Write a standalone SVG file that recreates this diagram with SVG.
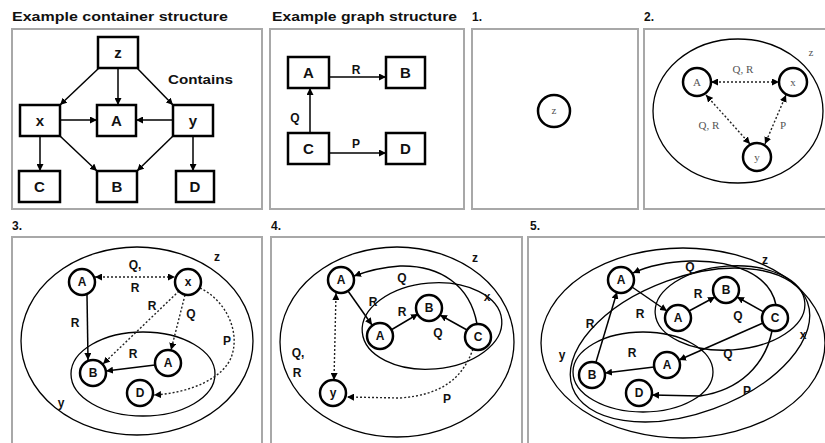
<svg xmlns="http://www.w3.org/2000/svg" width="825" height="443" viewBox="0 0 825 443">
<defs>
<marker id="ah" viewBox="0 0 8 8" refX="8" refY="4" markerWidth="7" markerHeight="7" markerUnits="userSpaceOnUse" orient="auto-start-reverse"><path d="M0,0 L8,4 L0,8 z" fill="#000"/></marker>
<style>
.frame{fill:#fff;stroke:#a8a8a8;stroke-width:2}
.box{fill:#fff;stroke:#000;stroke-width:2.5}
.circ{fill:#fff;stroke:#000;stroke-width:2.5}
.ell{fill:none;stroke:#000;stroke-width:1.3}
.c{fill:none;stroke:#000;stroke-width:1.5;marker-end:url(#ah)}
.d{fill:none;stroke:#222;stroke-width:1.4;stroke-dasharray:2 2;marker-end:url(#ah)}
.bi{marker-start:url(#ah)}
text{font-family:"Liberation Sans",Arial,sans-serif;font-weight:bold;fill:#111}
.title{font-size:12px}
.lbl{font-size:12px;text-anchor:middle}
.bx{font-size:15px;text-anchor:middle}
.cl{font-size:12px;text-anchor:middle}
.sf{font-family:"Liberation Serif","Times New Roman",serif;font-weight:normal;fill:#555;font-size:11px;text-anchor:middle}
</style>
</defs>
<rect width="825" height="443" fill="#fff"/>

<!-- frames -->
<g id="frames">
<rect class="frame" x="12" y="29" width="250" height="180"/>
<rect class="frame" x="270" y="29" width="194" height="180"/>
<rect class="frame" x="472" y="29" width="166" height="180"/>
<rect class="frame" x="644" y="29" width="190" height="180"/>
<rect class="frame" x="12" y="237" width="250" height="220"/>
<rect class="frame" x="271" y="237" width="251" height="220"/>
<rect class="frame" x="528" y="237" width="310" height="220"/>
</g>

<g id="titles">
<text class="title" x="12" y="21" textLength="216" lengthAdjust="spacingAndGlyphs">Example container structure</text>
<text class="title" x="272" y="21" textLength="185" lengthAdjust="spacingAndGlyphs">Example graph structure</text>
<text class="title" x="472" y="21">1.</text>
<text class="title" x="644" y="21">2.</text>
<text class="title" x="12" y="230">3.</text>
<text class="title" x="271" y="230">4.</text>
<text class="title" x="530" y="230">5.</text>
</g>

<!-- containers (ellipses) -->
<g id="p2-z"><ellipse class="ell" cx="738" cy="111" rx="85" ry="72"/><text class="sf" x="811" y="56" font-size="9">z</text></g>
<g id="p3-z"><ellipse class="ell" cx="137" cy="341" rx="116" ry="94"/><text class="cl" x="217" y="261">z</text></g>
<g id="p3-y"><ellipse class="ell" cx="143" cy="374" rx="72" ry="42"/><text class="cl" x="61" y="407">y</text></g>
<g id="p4-z"><ellipse class="ell" cx="397" cy="342" rx="117" ry="95"/><text class="cl" x="475" y="262">z</text></g>
<g id="p4-x"><ellipse class="ell" cx="432" cy="326" rx="70" ry="43" transform="rotate(-5 432 326)"/><text class="cl" x="487" y="301">x</text></g>
<g id="p5-z"><ellipse class="ell" cx="683" cy="343" rx="142" ry="95"/><text class="cl" x="765" y="264">z</text></g>
<g id="p5-x"><ellipse class="ell" cx="730" cy="308" rx="75" ry="42" transform="rotate(-4 730 308)"/><ellipse class="ell" cx="690" cy="345" rx="125" ry="68" transform="rotate(-20 690 345)"/><text class="cl" x="803" y="339">x</text></g>
<g id="p5-y"><ellipse class="ell" cx="643" cy="372" rx="70" ry="40"/><text class="cl" x="562" y="359">y</text></g>

<!-- connectors -->
<g id="connectors">
<!-- container structure -->
<line class="c" x1="99" y1="68" x2="60" y2="105"/>
<line class="c" x1="118" y1="68" x2="118" y2="105"/>
<line class="c" x1="137" y1="68" x2="173" y2="105"/>
<line class="c" x1="60" y1="120" x2="97" y2="120"/>
<line class="c" x1="173" y1="120" x2="136" y2="120"/>
<line class="c" x1="40" y1="136" x2="40" y2="171"/>
<line class="c" x1="60" y1="136" x2="97" y2="171"/>
<line class="c" x1="173" y1="136" x2="137" y2="171"/>
<line class="c" x1="193" y1="136" x2="193" y2="171"/>
<text class="title" x="168" y="84" textLength="65" lengthAdjust="spacingAndGlyphs">Contains</text>
<!-- graph structure -->
<line class="c" x1="329" y1="77" x2="386" y2="77"/>
<text class="lbl" x="356" y="74">R</text>
<line class="c" x1="310" y1="133" x2="310" y2="88"/>
<text class="lbl" x="295" y="122">Q</text>
<line class="c" x1="329" y1="153" x2="386" y2="153"/>
<text class="lbl" x="356" y="148">P</text>
<!-- panel 2 -->
<line class="d bi" x1="711" y1="82" x2="779" y2="82"/>
<text class="sf" x="743" y="73">Q, R</text>
<line class="d bi" x1="706" y1="95" x2="750" y2="144"/>
<text class="sf" x="709" y="129">Q, R</text>
<line class="d bi" x1="786" y1="95" x2="765" y2="144"/>
<text class="sf" x="783" y="129">P</text>
<!-- panel 3 -->
<line class="d bi" x1="95" y1="277" x2="175" y2="277"/>
<text class="cl" x="135" y="269">Q,</text>
<text class="cl" x="135" y="292">R</text>
<line class="c" x1="87" y1="295" x2="88" y2="360"/>
<text class="cl" x="75" y="327">R</text>
<line class="d" x1="179" y1="291" x2="103" y2="364"/>
<text class="cl" x="152" y="310">R</text>
<line class="d" x1="185" y1="295" x2="171" y2="350"/>
<text class="cl" x="191" y="318">Q</text>
<line class="c" x1="155" y1="365" x2="106" y2="371"/>
<text class="cl" x="133" y="358">R</text>
<path class="d" d="M200,288 C225,300 240,330 232,355 C225,378 190,393 154,395"/>
<text class="cl" x="227" y="345">P</text>
<!-- panel 4 -->
<path class="c" d="M477,324 C470,285 440,265 400,266 C385,267 370,270 354,276"/>
<text class="cl" x="402" y="282">Q</text>
<line class="c" x1="348" y1="291" x2="372" y2="325"/>
<text class="cl" x="373" y="306">R</text>
<line class="c" x1="391" y1="330" x2="418" y2="314"/>
<text class="cl" x="402" y="316">R</text>
<line class="c" x1="467" y1="330" x2="440" y2="315"/>
<text class="cl" x="438" y="337">Q</text>
<line class="d bi" x1="336" y1="293" x2="334" y2="380"/>
<text class="cl" x="298" y="357">Q,</text>
<text class="cl" x="297" y="377">R</text>
<path class="d" d="M473,349 C462,380 440,395 400,398 L347,397"/>
<text class="cl" x="447" y="403">P</text>
<!-- panel 5 -->
<path class="c" d="M776,305 C770,275 735,260 690,261 C665,262 648,266 633,273"/>
<text class="cl" x="690" y="271">Q</text>
<line class="c" x1="632" y1="287" x2="667" y2="311"/>
<text class="cl" x="640" y="318">R</text>
<line class="c" x1="689" y1="311" x2="715" y2="297"/>
<text class="cl" x="698" y="298">R</text>
<line class="c" x1="764" y1="312" x2="737" y2="297"/>
<text class="cl" x="738" y="320">Q</text>
<line class="c" x1="763" y1="323" x2="679" y2="360"/>
<text class="cl" x="728" y="358">Q</text>
<line class="c" x1="654" y1="367" x2="605" y2="373"/>
<text class="cl" x="632" y="357">R</text>
<line class="c" x1="596" y1="362" x2="617" y2="292"/>
<text class="cl" x="590" y="328">R</text>
<path class="c" d="M772,331 C765,365 740,390 700,396 L652,395"/>
<text class="cl" x="747" y="395">P</text>
</g>

<!-- container structure nodes -->
<g id="cs-z"><rect class="box" x="98" y="37" width="40" height="31"/><text class="bx" x="118" y="58">z</text></g>
<g id="cs-x"><rect class="box" x="20" y="105" width="40" height="31"/><text class="bx" x="40" y="126">x</text></g>
<g id="cs-A"><rect class="box" x="97" y="105" width="39" height="31"/><text class="bx" x="116.5" y="126">A</text></g>
<g id="cs-y"><rect class="box" x="173" y="105" width="40" height="31"/><text class="bx" x="193" y="126">y</text></g>
<g id="cs-C"><rect class="box" x="19" y="171" width="41" height="31"/><text class="bx" x="39.5" y="192">C</text></g>
<g id="cs-B"><rect class="box" x="97" y="171" width="40" height="31"/><text class="bx" x="117" y="192">B</text></g>
<g id="cs-D"><rect class="box" x="176" y="171" width="38" height="31"/><text class="bx" x="195" y="192">D</text></g>

<!-- graph structure nodes -->
<g id="gs-A"><rect class="box" x="288" y="57" width="41" height="31"/><text class="bx" x="308.5" y="78">A</text></g>
<g id="gs-B"><rect class="box" x="386" y="57" width="39" height="31"/><text class="bx" x="405.5" y="78">B</text></g>
<g id="gs-C"><rect class="box" x="288" y="133" width="41" height="31"/><text class="bx" x="308.5" y="154">C</text></g>
<g id="gs-D"><rect class="box" x="386" y="133" width="39" height="31"/><text class="bx" x="405.5" y="154">D</text></g>

<!-- panel 1 -->
<g id="p1-z"><circle class="circ" cx="554" cy="111" r="16"/><text class="sf" x="554" y="114" font-size="9">z</text></g>

<!-- panel 2 -->
<g id="p2-A"><circle class="circ" cx="697" cy="82" r="14"/><text class="sf" x="697" y="86">A</text></g>
<g id="p2-x"><circle class="circ" cx="793" cy="82" r="14"/><text class="sf" x="793" y="86">x</text></g>
<g id="p2-y"><circle class="circ" cx="757" cy="157" r="14"/><text class="sf" x="757" y="161">y</text></g>

<!-- panel 3 -->
<g id="p3-A"><circle class="circ" cx="82" cy="282" r="13"/><text class="cl" x="82" y="286">A</text></g>
<g id="p3-x"><circle class="circ" cx="188" cy="282" r="13"/><text class="cl" x="188" y="286" font-size="10">x</text></g>
<g id="p3-B"><circle class="circ" cx="93" cy="373" r="13"/><text class="cl" x="93" y="377">B</text></g>
<g id="p3-A2"><circle class="circ" cx="168" cy="363" r="13"/><text class="cl" x="168" y="367">A</text></g>
<g id="p3-D"><circle class="circ" cx="140" cy="393" r="13"/><text class="cl" x="140" y="397">D</text></g>

<!-- panel 4 -->
<g id="p4-A"><circle class="circ" cx="341" cy="280" r="13"/><text class="cl" x="341" y="284">A</text></g>
<g id="p4-A2"><circle class="circ" cx="380" cy="336" r="13"/><text class="cl" x="380" y="340">A</text></g>
<g id="p4-B"><circle class="circ" cx="429" cy="308" r="13"/><text class="cl" x="429" y="312">B</text></g>
<g id="p4-C"><circle class="circ" cx="478" cy="337" r="13"/><text class="cl" x="478" y="341">C</text></g>
<g id="p4-y"><circle class="circ" cx="333" cy="393" r="13"/><text class="cl" x="333" y="397">y</text></g>

<!-- panel 5 -->
<g id="p5-A"><circle class="circ" cx="621" cy="280" r="13"/><text class="cl" x="621" y="284">A</text></g>
<g id="p5-A2"><circle class="circ" cx="678" cy="318" r="13"/><text class="cl" x="678" y="322">A</text></g>
<g id="p5-B"><circle class="circ" cx="726" cy="290" r="13"/><text class="cl" x="726" y="294">B</text></g>
<g id="p5-C"><circle class="circ" cx="775" cy="318" r="13"/><text class="cl" x="775" y="322">C</text></g>
<g id="p5-A3"><circle class="circ" cx="667" cy="365" r="13"/><text class="cl" x="667" y="369">A</text></g>
<g id="p5-B2"><circle class="circ" cx="592" cy="375" r="13"/><text class="cl" x="592" y="379">B</text></g>
<g id="p5-D"><circle class="circ" cx="639" cy="393" r="13"/><text class="cl" x="639" y="397">D</text></g>
</svg>
